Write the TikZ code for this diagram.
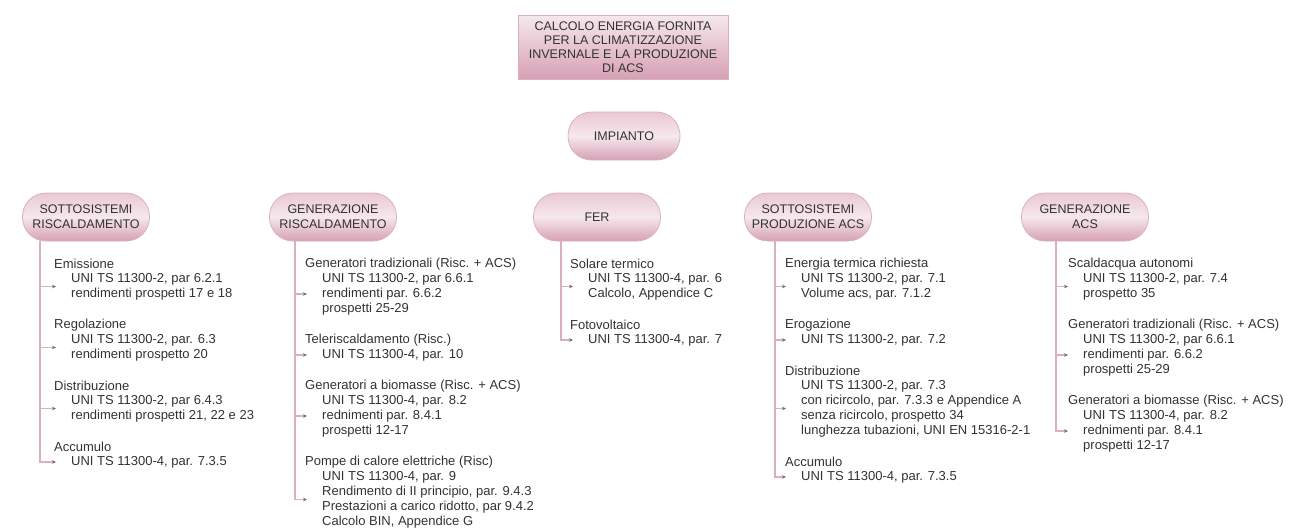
\documentclass[tikz,border=0pt]{standalone}
\usepackage{fontspec}
\setmainfont{Liberation Sans}
\usetikzlibrary{arrows.meta}
\definecolor{cpink}{RGB}{214,160,180}
\definecolor{cpinklt}{RGB}{246,232,237}
\definecolor{cpinkmd}{RGB}{233,200,212}
\definecolor{cline}{RGB}{218,176,192}
\definecolor{ctext}{RGB}{50,50,50}
\definecolor{ctip}{RGB}{110,110,110}

\begin{document}
\begin{tikzpicture}[x=1pt, y=-1pt,
    every node/.style={text=ctext, font=\fontsize{13}{15}\selectfont},
    hub/.style={draw=cline, line width=0.8pt, rounded corners=23.5pt,
                minimum width=127pt, minimum height=48pt, inner sep=2pt, align=center,
                font=\fontsize{12.5}{15}\selectfont,
                top color=cpinkmd, bottom color=cpink, middle color=cpinklt},
    leaf/.style={anchor=west, inner sep=0pt, align=left},
    stem/.style={draw=cline, line width=1.2pt, -{Stealth[length=4pt,width=3.5pt,color=ctip]}},
  ]
  \useasboundingbox (0,0) rectangle (1293,530);

  % title and root
  \node[draw=cline, line width=0.8pt, top color=cpinklt, bottom color=cpink,
        minimum width=210pt, minimum height=64pt, align=center,
        font=\fontsize{12.5}{14}\selectfont] (title) at (623,47) {
    CALCOLO ENERGIA FORNITA\\
    PER LA CLIMATIZZAZIONE\\
    INVERNALE E LA PRODUZIONE\\
    DI ACS};
  \node[hub, minimum width=112pt] (imp) at (624,136) {IMPIANTO};

  % second level
  \node[hub] (sr)  at (86,217)   {SOTTOSISTEMI\\RISCALDAMENTO};
  \node[hub] (gr)  at (333,217)  {GENERAZIONE\\RISCALDAMENTO};
  \node[hub] (fer) at (597,217)  {FER};
  \node[hub] (sa)  at (808,217)  {SOTTOSISTEMI\\PRODUZIONE ACS};
  \node[hub] (ga)  at (1085,217) {GENERAZIONE\\ACS};

  % stem positions
  \coordinate (s1) at (40,0);
  \coordinate (s2) at (295,0);
  \coordinate (s3) at (561,0);
  \coordinate (s4) at (775,0);
  \coordinate (s5) at (1056,0);

  % Sottosistemi riscaldamento
  \node[leaf] (sr1)  at (54,264)   {Emissione};
  \node[leaf] (sr1b) at (71,286.5) {UNI TS 11300-2, par 6.2.1\\rendimenti prospetti 17 e 18};
  \node[leaf] (sr2)  at (54,325)   {Regolazione};
  \node[leaf] (sr2b) at (71,347.5) {UNI TS 11300-2, par. 6.3\\rendimenti prospetto 20};
  \node[leaf] (sr3)  at (54,386)   {Distribuzione};
  \node[leaf] (sr3b) at (71,408.5) {UNI TS 11300-2, par 6.4.3\\rendimenti prospetti 21, 22 e 23};
  \node[leaf] (sr4)  at (54,447)   {Accumulo};
  \node[leaf] (sr4b) at (71,462)   {UNI TS 11300-4, par. 7.3.5};

  % Generazione riscaldamento
  \node[leaf] (gr1)  at (305,264)   {Generatori tradizionali (Risc. + ACS)};
  \node[leaf] (gr1b) at (322,294)   {UNI TS 11300-2, par 6.6.1\\rendimenti par. 6.6.2\\prospetti 25-29};
  \node[leaf] (gr2)  at (305,340)   {Teleriscaldamento (Risc.)};
  \node[leaf] (gr2b) at (322,355)   {UNI TS 11300-4, par. 10};
  \node[leaf] (gr3)  at (305,386)   {Generatori a biomasse (Risc. + ACS)};
  \node[leaf] (gr3b) at (322,416)   {UNI TS 11300-4, par. 8.2\\rednimenti par. 8.4.1\\prospetti 12-17};
  \node[leaf] (gr4)  at (305,462)   {Pompe di calore elettriche (Risc)};
  \node[leaf] (gr4b) at (322,499.5) {UNI TS 11300-4, par. 9\\Rendimento di II principio, par. 9.4.3\\Prestazioni a carico ridotto, par 9.4.2\\Calcolo BIN, Appendice G};

  % FER
  \node[leaf] (fer1)  at (570,264)   {Solare termico};
  \node[leaf] (fer1b) at (588,286.5) {UNI TS 11300-4, par. 6\\Calcolo, Appendice C};
  \node[leaf] (fer2)  at (570,325)   {Fotovoltaico};
  \node[leaf] (fer2b) at (588,340)   {UNI TS 11300-4, par. 7};

  % Sottosistemi produzione ACS
  \node[leaf] (sa1)  at (785,264)   {Energia termica richiesta};
  \node[leaf] (sa1b) at (801,286.5) {UNI TS 11300-2, par. 7.1\\Volume acs, par. 7.1.2};
  \node[leaf] (sa2)  at (785,325)   {Erogazione};
  \node[leaf] (sa2b) at (801,340)   {UNI TS 11300-2, par. 7.2};
  \node[leaf] (sa3)  at (785,371)   {Distribuzione};
  \node[leaf] (sa3b) at (801,408.5) {UNI TS 11300-2, par. 7.3\\con ricircolo, par. 7.3.3 e Appendice A\\senza ricircolo, prospetto 34\\lunghezza tubazioni, UNI EN 15316-2-1};
  \node[leaf] (sa4)  at (785,462)   {Accumulo};
  \node[leaf] (sa4b) at (801,477)   {UNI TS 11300-4, par. 7.3.5};

  % Generazione ACS
  \node[leaf] (ga1)  at (1068,264)   {Scaldacqua autonomi};
  \node[leaf] (ga1b) at (1083,286.5) {UNI TS 11300-2, par. 7.4\\prospetto 35};
  \node[leaf] (ga2)  at (1068,325)   {Generatori tradizionali (Risc. + ACS)};
  \node[leaf] (ga2b) at (1083,355)   {UNI TS 11300-2, par 6.6.1\\rendimenti par. 6.6.2\\prospetti 25-29};
  \node[leaf] (ga3)  at (1068,401)   {Generatori a biomasse (Risc. + ACS)};
  \node[leaf] (ga3b) at (1083,431)   {UNI TS 11300-4, par. 8.2\\rednimenti par. 8.4.1\\prospetti 12-17};

  % stems, last branch turns the corner
  \draw[stem] (sr.south -| s1)  |- ([xshift=-15pt]sr4b.west);
  \draw[stem] (gr.south -| s2)  |- ([xshift=-15pt]gr4b.west);
  \draw[stem] (fer.south -| s3) |- ([xshift=-15pt]fer2b.west);
  \draw[stem] (sa.south -| s4)  |- ([xshift=-15pt]sa4b.west);
  \draw[stem] (ga.south -| s5)  |- ([xshift=-15pt]ga3b.west);
  \foreach \b in {sr1b,sr2b,sr3b}
    \draw[stem] (\b.west -| s1) -- ([xshift=-15pt]\b.west);
  \foreach \b in {gr1b,gr2b,gr3b}
    \draw[stem] (\b.west -| s2) -- ([xshift=-15pt]\b.west);
  \draw[stem] (fer1b.west -| s3) -- ([xshift=-15pt]fer1b.west);
  \foreach \b in {sa1b,sa2b,sa3b}
    \draw[stem] (\b.west -| s4) -- ([xshift=-15pt]\b.west);
  \foreach \b in {ga1b,ga2b}
    \draw[stem] (\b.west -| s5) -- ([xshift=-15pt]\b.west);
\end{tikzpicture}
\end{document}
